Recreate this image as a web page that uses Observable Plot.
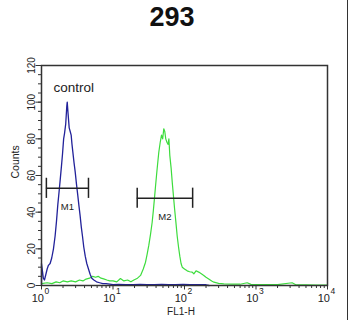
<!DOCTYPE html>
<html><head><meta charset="utf-8">
<script src="https://cdn.jsdelivr.net/npm/d3@7"></script>
<script src="https://cdn.jsdelivr.net/npm/@observablehq/plot@0.6"></script>
<style>
body{margin:0;background:#fff;}
#wrap{position:relative;width:350px;height:320px;font-family:"Liberation Sans",Arial,sans-serif;}
#title{position:absolute;top:4px;left:0;width:344px;text-align:center;font-size:27px;font-weight:bold;line-height:27px;color:#111;}
#chart{position:absolute;top:40px;left:0;}
#edge{position:absolute;left:347px;top:0;width:1px;height:320px;background:#333;}
</style></head><body>
<div id="wrap"><div id="title">293</div><div id="chart"></div><div id="edge"></div></div>
<script>
// Control (blue) histogram: FL1-H value and count
const blueX = [1, 1, 1.03, 1.06, 1.10, 1.15, 1.2, 1.25, 1.32, 1.39, 1.47, 1.55, 1.62, 1.69, 1.76, 1.83, 1.90, 1.97, 2.04, 2.10, 2.18, 2.26, 2.29, 2.35, 2.44, 2.52, 2.60, 2.67, 2.74, 2.85, 2.96, 3.09, 3.22, 3.35, 3.47, 3.6, 3.74, 3.9, 4.09, 4.3, 4.54, 4.8, 5.05, 5.4, 5.88, 6.5, 7.2, 8, 9, 10, 12, 15, 19, 24, 30, 38, 48, 60, 75, 95, 120, 150, 185, 200, 220];
const blueCount = [0, 12, 8, 4, 3, 6, 9, 11, 12, 15, 20, 27, 35, 44, 51, 58, 65, 72, 80, 83, 88, 98, 100, 94, 86, 84, 82, 77, 73, 67, 62, 55, 49, 43, 38, 32, 27, 21, 16, 12, 9, 6, 4, 3, 2, 1.5, 1, 1, 0.8, 0.5, 0.6, 0.5, 0.5, 0.6, 0.5, 0.5, 0.6, 0.5, 0.5, 0.6, 0.5, 0.5, 0.5, 0.4, 0];

// Sample (green) histogram
const greenX = [1, 1.2, 1.4, 1.6, 1.8, 2.0, 2.3, 2.6, 3.0, 3.4, 3.8, 4.2, 4.7, 5.2, 5.7, 6.2, 6.8, 7.4, 8.2, 9, 10, 11.3, 12.7, 14.2, 16, 17.8, 19.6, 22, 24.3, 26.5, 28.5, 30, 31.7, 33.5, 35.3, 36.7, 38, 39.3, 40.6, 42, 43.7, 45.7, 47.7, 49.5, 51.3, 53, 54.7, 57, 59, 60.5, 62.3, 65, 67.5, 70, 72.6, 76, 79, 82.5, 86, 89.5, 93, 100, 109, 118, 128, 135, 145, 158, 170, 186, 200, 218, 240, 258, 300, 355, 450, 600, 753, 850, 1200, 2000, 3200, 3600, 5000, 7000, 10000];
const greenCount = [1, 1.5, 1, 2, 1.5, 2.5, 2, 2.5, 2, 3, 2.5, 3.5, 4, 5, 4.5, 5, 4, 3.6, 3, 2.5, 2.5, 2, 3.8, 2.5, 3, 2, 3, 4, 5.5, 9, 12.7, 17, 22, 28, 34.5, 41, 47.5, 54, 60, 66, 72.7, 78, 82, 80, 85.5, 84, 80, 78, 77, 80, 71, 64, 56, 49, 42, 34, 27, 21, 16, 12, 10, 9, 8, 7.5, 7.3, 6.4, 8, 7.3, 6.5, 5.5, 4.5, 3.6, 2.5, 1.8, 1.2, 0.9, 0.8, 0.7, 1.5, 0.6, 0.5, 0.5, 1.5, 0.4, 0.3, 0.2, 0.2];

// Gates
const gateLabel = ["M1", "M2"];
const gateX1 = [1.17, 21.8];
const gateX2 = [4.54, 130];
const gateY = [53, 47.6];

// Axis ticks
const yMajor = [0, 20, 40, 60, 80, 100, 120];
const yMinor = d3.range(0, 121, 5);
const xMajor = [1, 10, 100, 1000, 10000];
const xExp = ["0", "1", "2", "3", "4"];
const xMinor = [];
for (let p = 0; p < 4; p++) for (let k = 2; k <= 9; k++) xMinor.push(k * 10 ** p);

const blue = blueX.map((x, i) => ({x, count: blueCount[i]}));
const green = greenX.map((x, i) => ({x, count: greenCount[i]}));
const gates = gateLabel.map((label, i) => ({label, x1: gateX1[i], x2: gateX2[i], y: gateY[i]}));
const gateEnds = gates.flatMap(g => [{x: g.x1, y: g.y}, {x: g.x2, y: g.y}]);
const xTicks = xMajor.map((v, i) => ({v, e: xExp[i]}));

const W = 350, H = 280, ML = 41, MR = 23, MT = 25, MB = 35;
const FW = W - ML - MR, FH = H - MT - MB;
const ink = "#333";

const chart = Plot.plot({
  width: W, height: H,
  marginLeft: ML, marginRight: MR, marginTop: MT, marginBottom: MB,
  x: {type: "log", domain: [1, 10000], axis: null},
  y: {domain: [0, 120], axis: null},
  style: {fontFamily: '"Liberation Sans", Arial, sans-serif', fontSize: "10px", background: "transparent", color: "#222"},
  marks: [
    Plot.line(green, {x: "x", y: "count", stroke: "#3ddc3d", strokeWidth: 1.2}),
    Plot.line(blue, {x: "x", y: "count", stroke: "#22229a", strokeWidth: 1.3}),
    Plot.ruleY(gates, {x1: "x1", x2: "x2", y: "y", stroke: "#222", strokeWidth: 1.5}),
    Plot.ruleX(gateEnds, {x: "x", y1: d => d.y - 5.5, y2: d => d.y + 5.5, stroke: "#222", strokeWidth: 1.5}),
    Plot.text(gates, {x: d => Math.sqrt(d.x1 * d.x2), y: "y", text: "label", dy: 19, fontSize: 9.5, lineAnchor: "middle", fill: "#222"}),
    Plot.frame({stroke: ink, strokeWidth: 1.5}),
    // y ticks (left of frame)
    Plot.ruleY(yMinor, {y: d => d, insetLeft: -3, insetRight: FW, stroke: ink}),
    Plot.ruleY(yMajor, {y: d => d, insetLeft: -5.5, insetRight: FW, stroke: ink}),
    Plot.text(yMajor, {y: d => d, text: d => String(d), frameAnchor: "left", dx: -9.5, rotate: -90, fontSize: 10, textAnchor: "middle", lineAnchor: "middle", fill: "#222"}),
    // x ticks (below frame)
    Plot.ruleX(xMinor, {x: d => d, insetTop: FH, insetBottom: -3, stroke: ink}),
    Plot.ruleX(xMajor, {x: d => d, insetTop: FH, insetBottom: -4.5, stroke: ink}),
    Plot.text(xTicks, {x: "v", text: () => "10", frameAnchor: "bottom", dy: 12.5, dx: 2.5, textAnchor: "end", lineAnchor: "middle", fontSize: 11, fill: "#222"}),
    Plot.text(xTicks, {x: "v", text: "e", frameAnchor: "bottom", dy: 6, dx: 3, textAnchor: "start", lineAnchor: "middle", fontSize: 8.5, fill: "#222"}),
    Plot.text(["FL1-H"], {text: d => d, frameAnchor: "bottom", dy: 26.3, dx: -3.5, fontSize: 10, lineAnchor: "middle", fill: "#222"}),
    Plot.text(["Counts"], {text: d => d, frameAnchor: "left", dx: -26, dy: 3, rotate: -90, fontSize: 10.5, lineAnchor: "middle", fill: "#222"}),
    Plot.text(["control"], {text: d => d, frameAnchor: "top-left", dx: 12, dy: 22.5, fontSize: 13.5, textAnchor: "start", lineAnchor: "middle", fill: "#222"})
  ]
});
document.getElementById("chart").append(chart);
</script>
</body></html>
